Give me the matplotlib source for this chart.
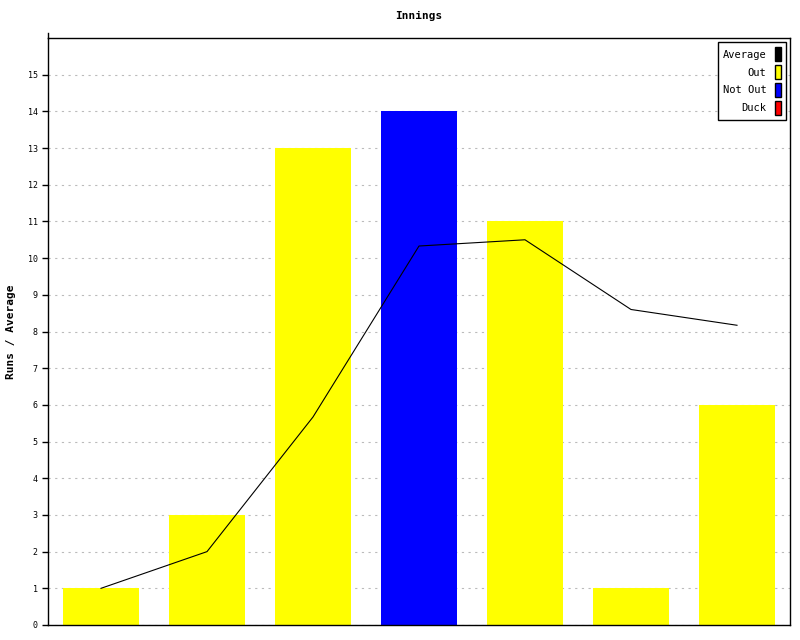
import matplotlib.pyplot as plt
from matplotlib.patches import Patch

# innings data
runs = [1, 3, 13, 14, 11, 1, 6]
status = ['Out', 'Out', 'Out', 'Not Out', 'Out', 'Out', 'Out']
average = [1, 2, 5.67, 10.33, 10.5, 8.6, 8.17]

colours = {'Out': '#ffff00', 'Not Out': '#0000ff', 'Duck': '#ff0000'}

plt.rcParams['font.family'] = 'DejaVu Sans Mono'

fig = plt.figure(figsize=(8, 6.4), dpi=100)
ax = fig.add_axes([48 / 800, 15 / 640, 742 / 800, 587 / 640])

x = list(range(len(runs)))
ax.bar(x, runs, width=0.72, color=[colours[s] for s in status], zorder=2)
ax.plot(x, average, color='black', linewidth=0.8, zorder=3)

ax.set_xlim(-0.5, len(runs) - 0.5)
ax.set_ylim(0, 16)
ax.set_yticks(range(0, 16))
ax.set_xticks([])
ax.tick_params(axis='y', labelsize=6, length=4, width=1, direction='out')
ax.yaxis.grid(True, linestyle=(0, (2, 4)), color='#bbbbbb', linewidth=0.8, zorder=0)
ax.set_axisbelow(True)
for s in ax.spines.values():
    s.set_linewidth(1)
# left axis line pokes a little above the frame
ax.plot([-0.5, -0.5], [16, 16.14], color='black', linewidth=1, clip_on=False)

ax.set_title('Innings', fontsize=8, fontweight='bold', pad=14)
ax.set_ylabel('Runs / Average', fontsize=8, fontweight='bold', labelpad=8)

handles = [Patch(facecolor='black', edgecolor='black'),
           Patch(facecolor=colours['Out'], edgecolor='black'),
           Patch(facecolor=colours['Not Out'], edgecolor='black'),
           Patch(facecolor=colours['Duck'], edgecolor='black')]
labels = ['Average', 'Out', 'Not Out', 'Duck']
leg = ax.legend(handles, labels, loc='upper right', markerfirst=False, fontsize=7.5,
                handlelength=0.55, handleheight=1.7, handletextpad=0.8,
                labelspacing=0.35, borderpad=0.5, borderaxespad=0.4,
                fancybox=False, edgecolor='black', framealpha=1)
leg.get_frame().set_linewidth(1)
for t in leg.get_texts():
    t.set_ha('right')

plt.savefig('out.png', dpi=100)
